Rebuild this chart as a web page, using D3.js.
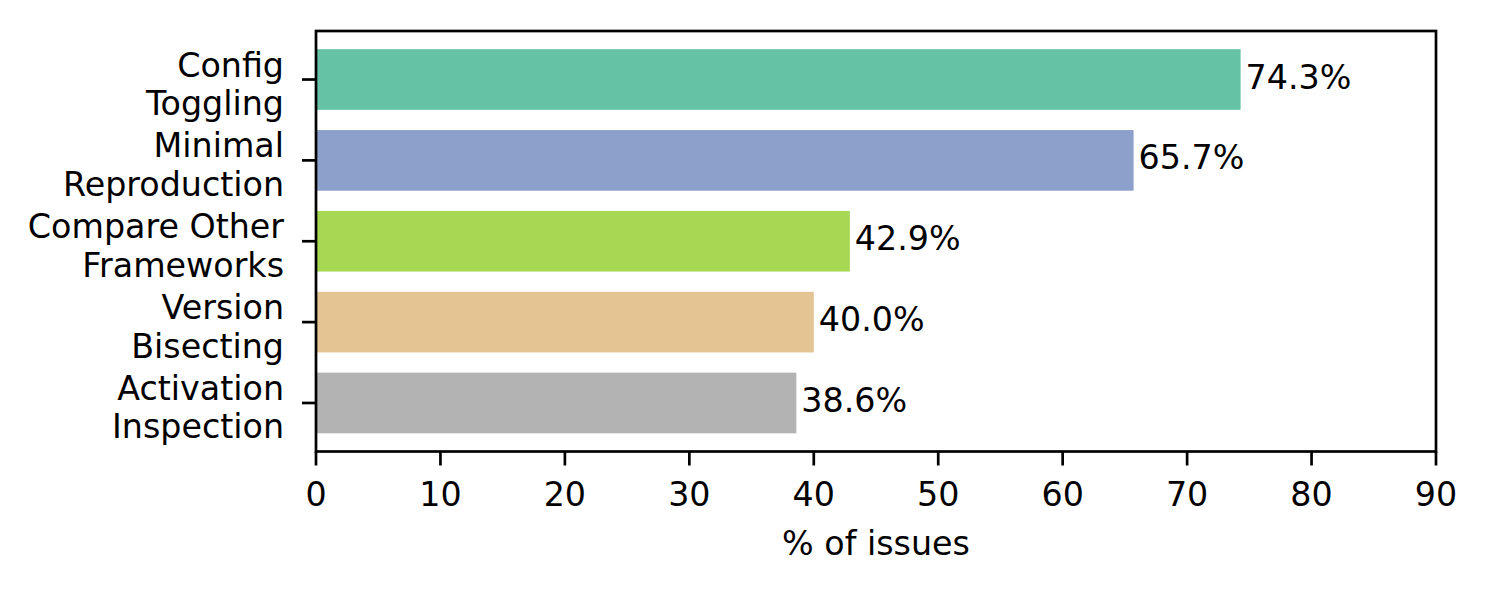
<!DOCTYPE html>
<html>
<head>
<meta charset="utf-8">
<script src="https://cdn.jsdelivr.net/npm/d3@7"></script>
<style>
  html, body { margin: 0; padding: 0; background: #fff; }
  svg { display: block; }
  text { font-family: "DejaVu Sans", sans-serif; fill: #000; }
</style>
</head>
<body>
<svg id="chart" width="1488" height="593"></svg>
<script>
const categories = [["Config", "Toggling"], ["Minimal", "Reproduction"], ["Compare Other", "Frameworks"], ["Version", "Bisecting"], ["Activation", "Inspection"]];
const values = [74.3, 65.7, 42.9, 40.0, 38.6];
const valueLabels = ["74.3%", "65.7%", "42.9%", "40.0%", "38.6%"];
const colors = ["#66c2a5", "#8da0cb", "#a6d854", "#e5c494", "#b3b3b3"];
const xTicks = [0, 10, 20, 30, 40, 50, 60, 70, 80, 90];
const xLabel = "% of issues";

(function () {
const svg = d3.select("#chart");
const pLeft = 316, pRight = 1436, pTop = 31, pBottom = 451.5;
const fontSize = 33.3;

const x = d3.scaleLinear().domain([0, 90]).range([pLeft, pRight]);
const y = d3.scaleLinear().domain([-0.6, 4.6]).range([pTop, pBottom]);
const barH = y(0.375) - y(-0.375);

// bars
svg.selectAll("rect.bar").data(values).enter().append("rect")
  .attr("class", "bar")
  .attr("x", x(0))
  .attr("y", (d, i) => y(i) - barH / 2)
  .attr("width", d => x(d) - x(0))
  .attr("height", barH)
  .attr("fill", (d, i) => colors[i]);

// value labels
svg.selectAll("text.val").data(values).enter().append("text")
  .attr("class", "val")
  .attr("x", d => x(d) + 5)
  .attr("y", (d, i) => y(i) + 9)
  .attr("font-size", fontSize)
  .text((d, i) => valueLabels[i]);

// frame
const sw = 2.7;
svg.append("rect")
  .attr("x", pLeft).attr("y", pTop)
  .attr("width", pRight - pLeft).attr("height", pBottom - pTop)
  .attr("fill", "none").attr("stroke", "#000").attr("stroke-width", sw);

// x axis ticks
const xg = svg.append("g");
xTicks.forEach(t => {
  xg.append("line")
    .attr("x1", x(t)).attr("x2", x(t))
    .attr("y1", pBottom).attr("y2", pBottom + 14)
    .attr("stroke", "#000").attr("stroke-width", sw);
  xg.append("text")
    .attr("x", x(t)).attr("y", 506)
    .attr("text-anchor", "middle")
    .attr("font-size", fontSize)
    .text(t);
});

// y axis ticks and labels
const yg = svg.append("g");
categories.forEach((lines, i) => {
  yg.append("line")
    .attr("x1", pLeft - 14).attr("x2", pLeft)
    .attr("y1", y(i)).attr("y2", y(i))
    .attr("stroke", "#000").attr("stroke-width", sw);
  const t = yg.append("text")
    .attr("text-anchor", "end")
    .attr("font-size", fontSize);
  lines.forEach((ln, j) => {
    t.append("tspan")
      .attr("x", 284)
      .attr("y", y(i) - 3 + j * 38.4)
      .text(ln);
  });
});

// x label
svg.append("text")
  .attr("x", (pLeft + pRight) / 2)
  .attr("y", 555)
  .attr("text-anchor", "middle")
  .attr("font-size", fontSize)
  .text(xLabel);
})();
</script>
</body>
</html>
